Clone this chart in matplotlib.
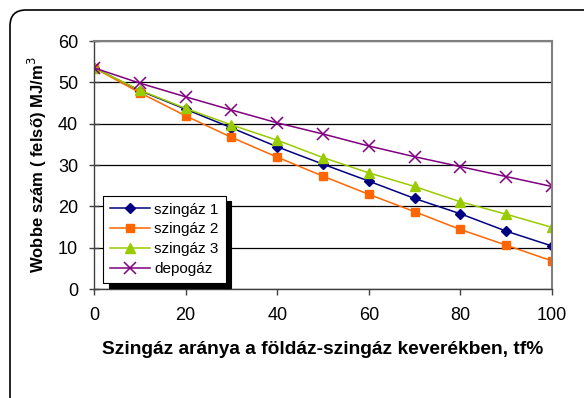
import numpy as np
import matplotlib
matplotlib.use("Agg")
import matplotlib.pyplot as plt
from matplotlib.patches import FancyBboxPatch

plt.rcParams['font.family'] = ['Liberation Sans', 'DejaVu Sans']

# data
tf = [0, 10, 20, 30, 40, 50, 60, 70, 80, 90, 100]
szingaz1 = [53.5, 48.0, 43.5, 39.0, 34.4, 30.2, 26.1, 21.9, 18.2, 14.0, 10.4]
szingaz2 = [53.5, 47.5, 41.9, 36.7, 31.9, 27.3, 22.9, 18.7, 14.4, 10.6, 6.8]
szingaz3 = [53.5, 48.1, 43.7, 39.7, 36.0, 31.8, 28.1, 24.8, 21.1, 18.1, 14.9]
depogaz = [53.5, 49.8, 46.5, 43.3, 40.2, 37.5, 34.6, 32.0, 29.6, 27.2, 24.8]
xticks = [0, 20, 40, 60, 80, 100]
yticks = [0, 10, 20, 30, 40, 50, 60]

fig = plt.figure(figsize=(5.84, 3.98), dpi=100)
ax = fig.add_axes([94/584, 1-289/398, (552-94)/584, (289-41)/398])

# rounded border around the whole chart
border = FancyBboxPatch((10, -30), 600, 418, boxstyle="round,pad=0,rounding_size=16",
                        transform=None, facecolor='none', edgecolor='black', lw=1.2)
fig.patches.append(border)

ax.plot(tf, szingaz1, color='#000080', marker='D', ms=5, lw=1.1, label='szingáz 1')
ax.plot(tf, szingaz2, color='#FF6600', marker='s', ms=6, lw=1.1, label='szingáz 2')
ax.plot(tf, szingaz3, color='#99CC00', marker='^', ms=7, lw=1.1, label='szingáz 3')
ax.plot(tf, depogaz, color='#800080', marker='x', ms=9, mew=1.1, lw=1.1, label='depogáz')

ax.set_xlim(0, 100)
ax.set_ylim(0, 60)
ax.set_xticks(xticks)
ax.set_yticks(yticks)
ax.yaxis.grid(True, color='black', lw=0.9)
ax.set_axisbelow(True)
for s in ['top', 'right']:
    ax.spines[s].set_color('#808080')
    ax.spines[s].set_linewidth(1.5)
for s in ['left', 'bottom']:
    ax.spines[s].set_color('#404040')
    ax.spines[s].set_linewidth(1)
ax.tick_params(axis='y', direction='inout', length=7, width=1, color='#404040', labelsize=13, pad=8)
ax.tick_params(axis='x', direction='out', length=4, width=1, color='#404040', labelsize=13, pad=9)

ax.set_xlabel('Szingáz aránya a földáz-szingáz keverékben, tf%', fontsize=13.8,
              fontweight='bold', labelpad=12)
ax.set_ylabel('Wobbe szám ( felső) MJ/m$^3$', fontsize=12, fontweight='bold', labelpad=6)

leg = ax.legend(loc='lower left', bbox_to_anchor=(0.02, 0.025), fontsize=11,
                frameon=True, fancybox=False, edgecolor='black', framealpha=1,
                handlelength=2.6, handletextpad=0.3, borderpad=0.45, labelspacing=0.38,
                borderaxespad=0,
                shadow={'color': 'black', 'alpha': 1, 'ox': 4, 'oy': -4})
leg.get_frame().set_linewidth(0.8)

fig.savefig('out.png', dpi=100)
